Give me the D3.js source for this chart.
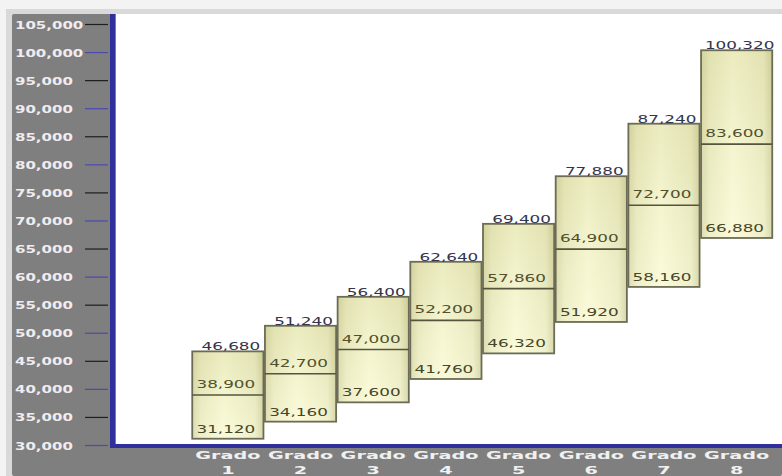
<!DOCTYPE html>
<html>
<head>
<meta charset="utf-8">
<script src="https://cdn.jsdelivr.net/npm/d3@7"></script>
<style>
  html, body { margin: 0; padding: 0; background: #f3f3f3; }
  svg { display: block; }
</style>
</head>
<body>
<svg id="chart" width="782" height="476"></svg>
<script>
// Salary ranges per grade: minimum, midpoint, maximum
const grades = ["Grado 1", "Grado 2", "Grado 3", "Grado 4", "Grado 5", "Grado 6", "Grado 7", "Grado 8"];
const minimums = [31120, 34160, 37600, 41760, 46320, 51920, 58160, 66880];
const midpoints = [38900, 42700, 47000, 52200, 57860, 64900, 72700, 83600];
const maximums = [46680, 51240, 56400, 62640, 69400, 77880, 87240, 100320];
const yTicks = [30000, 35000, 40000, 45000, 50000, 55000, 60000, 65000, 70000, 75000, 80000, 85000, 90000, 95000, 100000, 105000];

const rows = grades.map((g, i) => ({ grade: g, min: minimums[i], mid: midpoints[i], max: maximums[i] }));

const svg = d3.select("#chart");
const W = 782, H = 476;

// frame and panels
svg.append("rect").attr("x", 6).attr("y", 9).attr("width", W - 6).attr("height", H - 9).attr("fill", "#d9d9d9");
svg.append("rect").attr("x", 12).attr("y", 14).attr("width", W - 12).attr("height", H - 14).attr("rx", 2).attr("fill", "#7f7f7f");
svg.append("rect").attr("x", 116).attr("y", 14).attr("width", W - 116).attr("height", 430).attr("fill", "#ffffff");

const x = d3.scaleBand().domain(grades).range([191.5, 773]).padding(0);
const y = d3.scaleLinear().domain([30000, 105000]).range([445, 24]);

// bar fill: horizontal shading plus a soft vertical tint
const defs = svg.append("defs");
const grad = defs.append("linearGradient").attr("id", "barFill").attr("x1", "0").attr("x2", "1").attr("y1", "0").attr("y2", "0");
grad.append("stop").attr("offset", "0%").attr("stop-color", "#d8d8a6");
grad.append("stop").attr("offset", "12%").attr("stop-color", "#ececc0");
grad.append("stop").attr("offset", "45%").attr("stop-color", "#fafad4");
grad.append("stop").attr("offset", "88%").attr("stop-color", "#ededc2");
grad.append("stop").attr("offset", "100%").attr("stop-color", "#d2d29e");
const vgrad = defs.append("linearGradient").attr("id", "barTint").attr("x1", "0").attr("x2", "0").attr("y1", "0").attr("y2", "1");
vgrad.append("stop").attr("offset", "0%").attr("stop-color", "#b8b878").attr("stop-opacity", 0.22);
vgrad.append("stop").attr("offset", "100%").attr("stop-color", "#ffffff").attr("stop-opacity", 0.15);

// y axis
const yAxis = d3.axisLeft(y).tickValues(yTicks).tickSize(23).tickSizeOuter(0).tickFormat(d3.format(","));
const gy = svg.append("g").attr("transform", "translate(108,0)").call(yAxis);
gy.select(".domain").remove();
gy.selectAll(".tick line")
  .attr("stroke", (d, i) => (i % 2 === 0 ? "#4a4ab0" : "#1e1e1e"))
  .attr("stroke-width", 1.2);
gy.selectAll(".tick text")
  .attr("x", null).attr("dy", null)
  .attr("text-anchor", "start")
  .attr("transform", "translate(-93,4) scale(1.43,1)")
  .attr("fill", "#f0ecf0")
  .attr("font-family", "DejaVu Sans, Verdana, sans-serif")
  .attr("font-weight", "bold")
  .attr("font-size", 10.5);

// x axis labels
const xAxis = d3.axisBottom(x).tickSize(0).tickSizeOuter(0);
const gx = svg.append("g").attr("transform", "translate(0,448)").call(xAxis);
gx.select(".domain").remove();
gx.selectAll(".tick text").each(function (d) {
  const t = d3.select(this).text(null).attr("y", null).attr("dy", null)
    .attr("fill", "#f0f0f0")
    .attr("font-family", "DejaVu Sans, Verdana, sans-serif")
    .attr("font-weight", "bold")
    .attr("font-size", 11)
    .attr("text-anchor", "middle")
    .attr("transform", "scale(1.75,1)");
  const parts = d.split(" ");
  t.append("tspan").attr("x", 0).attr("y", 11).text(parts[0]);
  t.append("tspan").attr("x", 0).attr("y", 26).text(parts[1]);
});

// axis lines
svg.append("rect").attr("x", 110).attr("y", 14).attr("width", 5).attr("height", 434).attr("fill", "#30309c");
svg.append("rect").attr("x", 110).attr("y", 444).attr("width", W - 110).attr("height", 4).attr("fill", "#30309c");

// floating range bars
const bars = svg.append("g").selectAll("g").data(rows).join("g");
bars.append("rect")
  .attr("x", d => x(d.grade) + 0.75)
  .attr("y", d => y(d.max))
  .attr("width", x.bandwidth() - 1.5)
  .attr("height", d => y(d.min) - y(d.max))
  .attr("fill", "url(#barFill)");
bars.append("rect")
  .attr("x", d => x(d.grade) + 0.75)
  .attr("y", d => y(d.max))
  .attr("width", x.bandwidth() - 1.5)
  .attr("height", d => y(d.min) - y(d.max))
  .attr("fill", "url(#barTint)")
  .attr("stroke", "#6c6c56")
  .attr("stroke-width", 1.8);
bars.append("line")
  .attr("x1", d => x(d.grade) + 0.75)
  .attr("x2", d => x(d.grade) + x.bandwidth() - 0.75)
  .attr("y1", d => y(d.mid))
  .attr("y2", d => y(d.mid))
  .attr("stroke", "#55553e")
  .attr("stroke-width", 1.6);

const fmt = d3.format(",");
function label(sel, valueKey, dyOff, dx, color) {
  sel.append("text")
    .attr("transform", d => `translate(${x(d.grade) + x.bandwidth() / 2 + dx},${y(d[valueKey]) + dyOff}) scale(1.6,1)`)
    .attr("text-anchor", "middle")
    .attr("font-family", "DejaVu Sans, Verdana, sans-serif")
    .attr("font-size", 10.5)
    .attr("fill", color)
    .text(d => fmt(d[valueKey]));
}
label(bars, "max", -1, 3, "#34344a");
label(bars, "mid", -7, -2, "#50502c");
label(bars, "min", -6, -2, "#464628");
</script>
</body>
</html>
